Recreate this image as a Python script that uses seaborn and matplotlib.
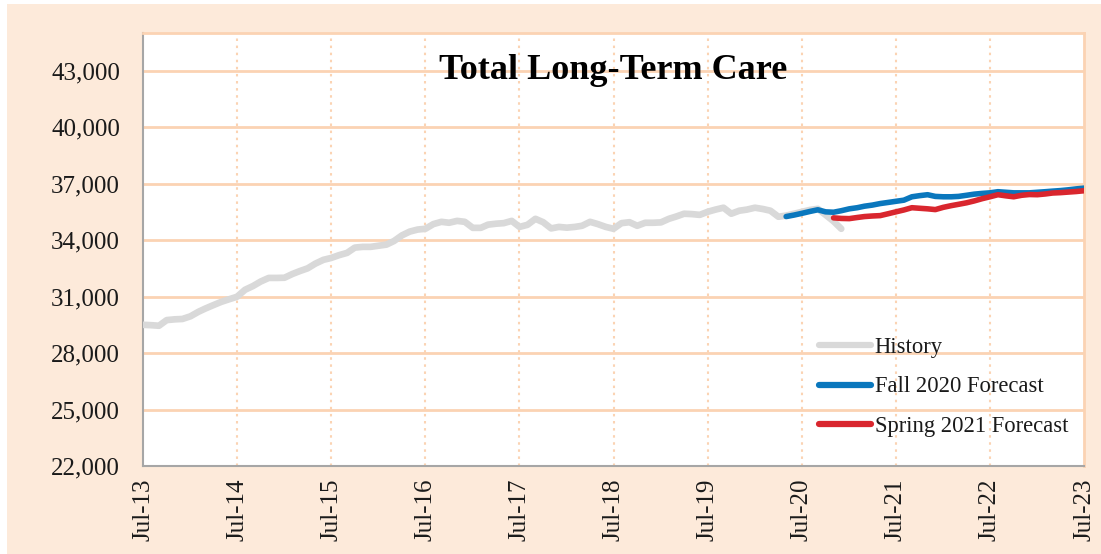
import matplotlib
matplotlib.use("Agg")
import matplotlib.pyplot as plt
import matplotlib.dates as mdates
from matplotlib.lines import Line2D
from matplotlib.patches import Rectangle
import seaborn as sns
import pandas as pd

# ---- data (monthly) ----
history_start = "2013-07-01"
history_values = [
    29500, 29480, 29450, 29750, 29790, 29810, 29950, 30190, 30370, 30550,
    30720, 30860, 30990, 31360, 31560, 31800, 31990, 31990, 32000, 32200,
    32350, 32500, 32750, 32950, 33050, 33200, 33320, 33600, 33640, 33640,
    33700, 33760, 33950, 34250, 34450, 34560, 34600, 34850, 34970, 34920,
    35020, 34970, 34650, 34650, 34820, 34870, 34900, 35020, 34700, 34810,
    35130, 34950, 34620, 34700, 34660, 34700, 34760, 34970, 34850, 34700,
    34600, 34900, 34950, 34760, 34920, 34920, 34940, 35130, 35250, 35400,
    35380, 35340, 35500, 35620, 35720, 35400, 35560, 35620, 35720, 35650,
    35560, 35240, 35300, 35400, 35500, 35600, 35660, 35340, 35000, 34600,
]
fall2020_start = "2020-05-01"
fall2020_values = [
    35250, 35330, 35420, 35520, 35610, 35500, 35480, 35560, 35660, 35720,
    35800, 35860, 35940, 36000, 36060, 36120, 36300, 36360, 36410, 36320,
    36300, 36300, 36320, 36380, 36440, 36480, 36510, 36570, 36540, 36510,
    36510, 36510, 36540, 36570, 36600, 36630, 36670, 36720, 36760,
]
spring2021_start = "2020-11-01"
spring2021_values = [
    35180, 35150, 35140, 35200, 35250, 35280, 35300, 35400, 35500, 35600,
    35720, 35690, 35660, 35620, 35740, 35830, 35900, 35980, 36080, 36200,
    36300, 36410, 36350, 36300, 36380, 36420, 36410, 36450, 36500, 36520,
    36550, 36580, 36620,
]
series_names = ["History", "Fall 2020 Forecast", "Spring 2021 Forecast"]
series_colors = ["#D9D9D9", "#0A77BD", "#D9262E"]
y_ticks = [22000, 25000, 28000, 31000, 34000, 37000, 40000, 43000]
title = "Total Long-Term Care"

frames = []
for name, start, vals in zip(series_names,
                             [history_start, fall2020_start, spring2021_start],
                             [history_values, fall2020_values, spring2021_values]):
    frames.append(pd.DataFrame({
        "date": pd.date_range(start, periods=len(vals), freq="MS"),
        "value": vals,
        "series": name,
    }))
df = pd.concat(frames, ignore_index=True)

sns.set_style("white")
plt.rcParams["font.family"] = ["Liberation Serif", "DejaVu Serif"]

peach = "#FDEADA"
grid_c = "#FBD3B3"

fig = plt.figure(figsize=(11.01, 5.54), dpi=100, facecolor="white")
fig.patches.append(Rectangle((7 / 1101, 0), 1, 1 - 4 / 554, transform=fig.transFigure,
                             facecolor=peach, edgecolor="none", zorder=-10))
ax = fig.add_axes([143 / 1101, 1 - 466 / 554, (1084 - 143) / 1101, (466 - 33) / 554])
ax.set_facecolor("white")

widths = {"History": 4.8, "Fall 2020 Forecast": 4.0, "Spring 2021 Forecast": 4.0}
for name, col in zip(series_names, series_colors):
    sub = df[df["series"] == name]
    sns.lineplot(data=sub, x="date", y="value", ax=ax, color=col,
                 linewidth=widths[name], solid_capstyle="round", legend=False,
                 zorder=3)

ax.set_xlim(pd.Timestamp("2013-07-01"), pd.Timestamp("2023-07-01"))
ax.set_ylim(22000, 45000)
ax.set_yticks(y_ticks)
ax.yaxis.set_major_formatter(matplotlib.ticker.FuncFormatter(lambda v, p: f"{int(v):,}"))
xt = pd.date_range("2013-07-01", "2023-07-01", freq="12MS")
ax.set_xticks(xt)
ax.xaxis.set_major_formatter(mdates.DateFormatter("%b-%y"))
ax.set_xlabel("")
ax.set_ylabel("")

ax.grid(False)
for v in y_ticks[1:]:
    ax.axhline(v, color=grid_c, lw=2, zorder=1)
for d in xt[1:-1]:
    ax.axvline(d, color=grid_c, lw=1.5, ls=(0, (1.2, 2.2)), zorder=1)

for s in ["top", "right"]:
    ax.spines[s].set_color(grid_c)
    ax.spines[s].set_linewidth(2)
for s in ["left", "bottom"]:
    ax.spines[s].set_color("#A6A6A6")
    ax.spines[s].set_linewidth(1.5)

ax.tick_params(axis="y", labelsize=18, length=0, pad=16.5, labelcolor="#1a1a1a")
ax.tick_params(axis="x", labelsize=18, length=5, width=1.5, color="#A6A6A6",
               direction="out", pad=4, labelcolor="#1a1a1a", labelrotation=90)

ax.text(0.5, 0.914, title, transform=ax.transAxes, ha="center", va="center",
        fontsize=26, fontweight="bold", color="black", zorder=5)

handles = [Line2D([0], [0], color=c, lw=4.5, solid_capstyle="round") for c in series_colors]
leg = ax.legend(handles, series_names, loc="upper left",
                bbox_to_anchor=(808 / 1101, 1 - 326 / 554), bbox_transform=fig.transFigure,
                frameon=False, fontsize=16.3, handlelength=2.3, handletextpad=0.15,
                labelspacing=0.8, borderpad=0)
for t in leg.get_texts():
    t.set_color("#1a1a1a")

fig.savefig("out.png", dpi=100, facecolor="white")
